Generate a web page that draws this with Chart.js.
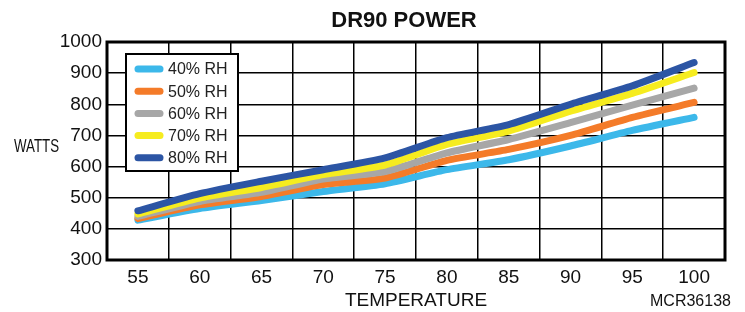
<!DOCTYPE html>
<html>
<head>
<meta charset="utf-8">
<script src="https://cdn.jsdelivr.net/npm/chart.js@4"></script>
<style>
  html, body { margin: 0; padding: 0; background: #fff; }
  #wrap { width: 745px; height: 312px; }
</style>
</head>
<body>
<div id="wrap"><canvas id="power-chart"></canvas></div>
<script>
const temps = ['55', '60', '65', '70', '75', '80', '85', '90', '95', '100'];
const rh40 = [428, 465, 491, 520, 545, 590, 622, 666, 716, 758];
const rh50 = [433, 477, 504, 542, 563, 620, 655, 700, 758, 806];
const rh60 = [440, 488, 517, 560, 584, 644, 687, 741, 797, 852];
const rh70 = [448, 499, 533, 574, 605, 671, 714, 778, 835, 902];
const rh80 = [458, 513, 553, 590, 628, 693, 735, 800, 859, 934];
const seriesLabels = ['40% RH', '50% RH', '60% RH', '70% RH', '80% RH'];
const colors = ['#3cb8ea', '#f47b29', '#a7a7a7', '#f6ec1f', '#2c55a4'];

const font = 'Liberation Sans, Arial, sans-serif';
const chartCanvas = document.getElementById('power-chart');

// title, y label, legend box, frame
const extras = {
  id: 'extras',
  beforeDatasetsDraw(chart) {
    const { ctx, chartArea: a } = chart;
    ctx.save();
    ctx.strokeStyle = '#000';
    ctx.lineWidth = 3;
    ctx.strokeRect(a.left, a.top, a.right - a.left, a.bottom - a.top);
    ctx.restore();
  },
  afterDraw(chart) {
    const { ctx } = chart;
    ctx.save();
    ctx.fillStyle = '#111';
    ctx.textBaseline = 'middle';
    ctx.textAlign = 'center';
    ctx.font = 'bold 22px ' + font;
    ctx.fillText('DR90 POWER', 404, 21);

    // narrow WATTS label
    ctx.save();
    ctx.translate(14, 147);
    ctx.scale(0.74, 1);
    ctx.textAlign = 'left';
    ctx.font = '18px ' + font;
    ctx.fillText('WATTS', 0, 0);
    ctx.restore();

    ctx.textAlign = 'left';
    ctx.font = '16px ' + font;
    ctx.fillText('MCR36138', 650, 302);

    // legend
    const bx = 126, by = 54, bw = 112, bh = 117;
    ctx.fillStyle = '#fff';
    ctx.fillRect(bx, by, bw, bh);
    ctx.strokeStyle = '#000';
    ctx.lineWidth = 2;
    ctx.strokeRect(bx, by, bw, bh);
    ctx.font = '16px ' + font;
    chart.data.datasets.forEach((ds, i) => {
      const y = by + 15 + i * 22.2;
      ctx.strokeStyle = ds.borderColor;
      ctx.lineWidth = 7;
      ctx.lineCap = 'round';
      ctx.beginPath();
      ctx.moveTo(138, y);
      ctx.lineTo(160, y);
      ctx.stroke();
      ctx.fillStyle = '#222';
      ctx.fillText(ds.label, 168, y + 1);
    });
    ctx.restore();
  }
};

const allSeries = [rh40, rh50, rh60, rh70, rh80];

new Chart(chartCanvas, {
  type: 'line',
  data: {
    labels: temps,
    datasets: allSeries.map((vals, i) => ({
      label: seriesLabels[i],
      data: vals,
      borderColor: colors[i],
      backgroundColor: colors[i],
      borderWidth: 7,
      borderCapStyle: 'round',
      borderJoinStyle: 'round',
      pointRadius: 0,
      tension: 0.2,
      order: 4 - i
    }))
  },
  options: {
    responsive: true,
    maintainAspectRatio: false,
    animation: false,
    layout: { padding: { left: 0, right: 20, top: 42, bottom: 0 } },
    plugins: {
      legend: { display: false },
      title: { display: false },
      tooltip: { enabled: false }
    },
    scales: {
      x: {
        type: 'category',
        offset: true,
        grid: { offset: true, color: '#000', lineWidth: 1.5, drawTicks: false },
        border: { display: false },
        ticks: { color: '#111', font: { family: font, size: 19 }, padding: 6, maxRotation: 0 },
        title: { display: true, text: 'TEMPERATURE', color: '#111', font: { family: font, size: 19 }, padding: { top: 0, bottom: 0 } },
        afterFit(scale) { scale.height = 52; }
      },
      y: {
        min: 300,
        max: 1000,
        ticks: { stepSize: 100, color: '#111', font: { family: font, size: 19 }, padding: 5, callback: v => String(v) },
        grid: { color: '#000', lineWidth: 1.5, drawTicks: false },
        border: { display: false },
        afterFit(scale) { scale.width = 107; }
      }
    }
  },
  plugins: [extras]
});
</script>
</body>
</html>
